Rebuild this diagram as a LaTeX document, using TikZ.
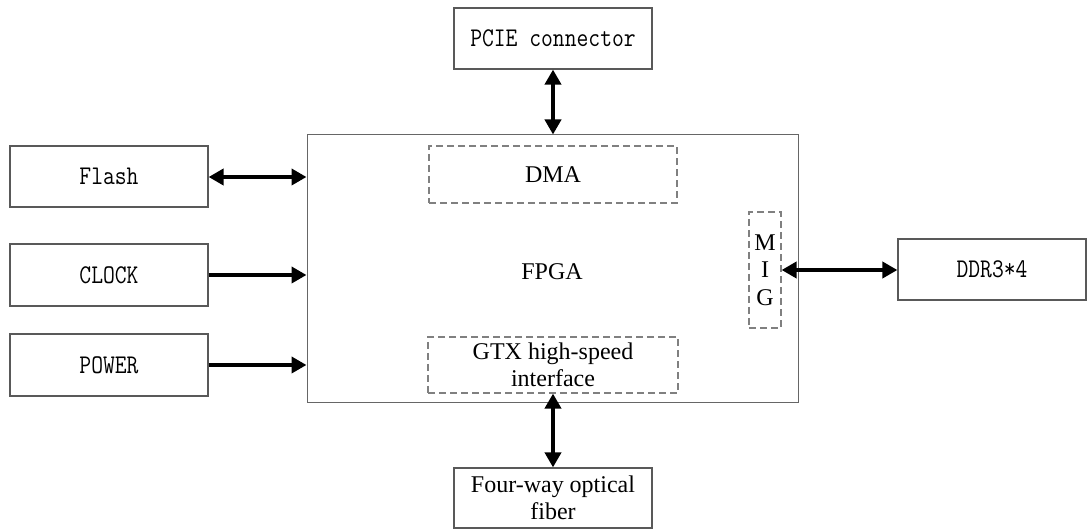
\documentclass[tikz,border=0pt]{standalone}
\usepackage{fontspec}
\setmainfont{Liberation Serif}
\newfontfamily\simmono[FakeStretch=0.85]{Latin Modern Mono}
\usetikzlibrary{arrows.meta}
\begin{document}
\begin{tikzpicture}[x=1pt,y=-1pt,
  box/.style={draw=black!65, line width=1.2pt, fill=white, inner sep=0pt, align=center},
  monotext/.style={font=\simmono\fontsize{27}{30}\selectfont},
  sertext/.style={font=\fontsize{24}{27.5}\selectfont},
  dbox/.style={draw=black!50, line width=1.2pt, dash pattern=on 7pt off 4pt, inner sep=0pt, align=center, sertext},
  link/.style={line width=4.5pt, -{Triangle[length=15pt,width=16pt]}},
  blink/.style={line width=4.5pt, {Triangle[length=15pt,width=16pt]}-{Triangle[length=15pt,width=16pt]}}
]
\useasboundingbox (0,0) rectangle (1088,529);
\node[box, monotext, minimum width=198pt, minimum height=61pt] (flash) at (109,176.5) {Flash};
\node[box, monotext, minimum width=198pt, minimum height=62pt] (clock) at (109,275) {CLOCK};
\node[box, monotext, minimum width=198pt, minimum height=62pt] (power) at (109,365) {POWER};
\node[box, sertext, draw=black!60, line width=1pt, minimum width=491pt, minimum height=268pt] (fpga) at (552.5,269) {};
\node[sertext, inner sep=0pt] (fpgalabel) at (552,272) {FPGA};
\node[box, monotext, minimum width=198pt, minimum height=61pt] (pcie) at (553,38.5) {PCIE connector};
\node[dbox, minimum width=248pt, minimum height=57pt] (dma) at (553,174.5) {DMA};
\node[dbox, minimum width=32pt, minimum height=116pt] (mig) at (765,270) {M\\I\\G};
\node[box, monotext, minimum width=188pt, minimum height=61pt] (ddr) at (992,269.5) {DDR3*4};
\node[dbox, minimum width=250pt, minimum height=56pt] (gtx) at (553,365) {GTX high-speed\\interface};
\node[box, sertext, minimum width=198pt, minimum height=60pt] (fiber) at (553,498) {Four-way optical\\fiber};
\draw[blink] (flash.east |- 0,177) -- (fpga.west |- 0,177);
\draw[link] (clock.east) -- (fpga.west |- clock.east);
\draw[link] (power.east) -- (fpga.west |- power.east);
\draw[blink] (pcie.south) -- (pcie.south |- fpga.north);
\draw[blink] (gtx.south) -- (fiber.north);
\draw[blink] (mig.east) -- (mig.east -| ddr.west);
\end{tikzpicture}
\end{document}
